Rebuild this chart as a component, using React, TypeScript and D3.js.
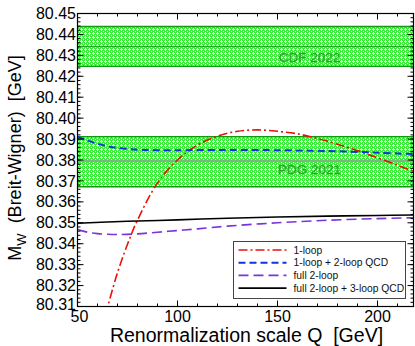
import React from "react";
import * as d3 from "d3";

// renormalization scale Q [GeV] vs M_W [GeV]
const qOneLoop = [64, 70, 76.2, 80, 90, 100, 110, 120, 130, 140, 150, 160, 170, 180, 190, 200, 210, 218];
const mwOneLoop = [80.306, 80.3262, 80.3427, 80.3513, 80.369, 80.38, 80.3871, 80.3914, 80.3937, 80.3944, 80.3937, 80.3925, 80.3903, 80.3875, 80.3845, 80.381, 80.3775, 80.3745];

const qOneLoopQcd = [50, 55, 60, 65, 70, 80, 90, 100, 125, 150, 175, 200, 218];
const mwOneLoopQcd = [80.3912, 80.3893, 80.3878, 80.3866, 80.3857, 80.3849, 80.3847, 80.3847, 80.3848, 80.3847, 80.3843, 80.3835, 80.3828];

const qTwoLoop = [50, 55, 60, 65, 70, 80, 90, 100, 110, 125, 150, 175, 200, 218];
const mwTwoLoop = [80.3468, 80.3455, 80.3448, 80.3445, 80.3444, 80.3447, 80.3455, 80.3463, 80.3471, 80.3484, 80.35, 80.3512, 80.352, 80.3524];

const qThreeLoop = [50, 75, 100, 125, 150, 175, 200, 218];
const mwThreeLoop = [80.3498, 80.3507, 80.3514, 80.3522, 80.3528, 80.3532, 80.3535, 80.3537];

// measurement bands: [low, centre, high]
const cdfBand = [80.4248, 80.4343, 80.4438];
const pdgBand = [80.3672, 80.3795, 80.3911];

const xMajorTicks = [50, 100, 150, 200];
const yMajorTicks = [80.31, 80.32, 80.33, 80.34, 80.35, 80.36, 80.37, 80.38, 80.39, 80.4, 80.41, 80.42, 80.43, 80.44, 80.45];

const legendLabels = ["1-loop", "1-loop + 2-loop QCD", "full 2-loop", "full 2-loop + 3-loop QCD"];

const W = 415;
const H = 346;
const margin = { left: 77.5, right: 1.5, top: 13.5, bottom: 39.5 };
const font = "'Liberation Sans', Arial, Helvetica, sans-serif";

export default function App() {
  const x = d3.scaleLinear().domain([50, 218]).range([margin.left, W - margin.right]);
  const y = d3.scaleLinear().domain([80.31, 80.45]).range([H - margin.bottom, margin.top]);
  const [x0, x1] = x.range();
  const [y0, y1] = y.range();

  const line = (qs: number[], ms: number[]) =>
    d3.line<number>()
      .x((_, i) => x(qs[i]))
      .y((m) => y(m))
      .curve(d3.curveCatmullRom)(ms) || "";

  const series = [
    { label: legendLabels[0], d: line(qOneLoop, mwOneLoop), color: "#e8120c", dash: "9,3,2,3", w: 1.6 },
    { label: legendLabels[1], d: line(qOneLoopQcd, mwOneLoopQcd), color: "#1530e0", dash: "7,4", w: 2 },
    { label: legendLabels[2], d: line(qTwoLoop, mwTwoLoop), color: "#7a35d8", dash: "10,5", w: 1.6 },
    { label: legendLabels[3], d: line(qThreeLoop, mwThreeLoop), color: "#000000", dash: "none", w: 1.6 },
  ];

  const xMinor = d3.range(50, 219, 10).filter((v) => !xMajorTicks.includes(v));
  const yMinor = d3.range(0, 71).map((i) => 80.31 + i * 0.002);

  const bands = [
    { b: cdfBand, text: "CDF 2022", centre: "#1a9a1a", cw: 1, off: 16 },
    { b: pdgBand, text: "PDG 2021", centre: "#86b086", cw: 2, off: 13 },
  ];

  const lg = { x: 233.5, y: 241.5, w: 172, h: 57 };

  return (
    <svg width={W} height={H} style={{ position: "absolute", left: 0, top: 0 }} fontFamily={font}>
      <defs>
        <pattern id="dots" width="4" height="4" patternUnits="userSpaceOnUse">
          <rect width="4" height="4" fill="#3ced3c" />
          <rect x="1" y="0" width="1" height="1" fill="#ffffff" />
          <rect x="0" y="1" width="3" height="1" fill="#ffffff" />
          <rect x="1" y="2" width="1" height="1" fill="#ffffff" />
          <rect x="3" y="3" width="1" height="1" fill="#d0fad0" />
        </pattern>
        <clipPath id="plot">
          <rect x={x0} y={y1} width={x1 - x0} height={y0 - y1} />
        </clipPath>
      </defs>
      <rect width={W} height={H} fill="#fff" />

      {bands.map(({ b, text, centre, cw, off }) => (
        <g key={text}>
          <rect x={x0} y={y(b[2])} width={x1 - x0} height={y(b[0]) - y(b[2])} fill="url(#dots)" />
          <line x1={x0} x2={x1} y1={y(b[0])} y2={y(b[0])} stroke="#109a10" strokeWidth={1.5} />
          <line x1={x0} x2={x1} y1={y(b[2])} y2={y(b[2])} stroke="#109a10" strokeWidth={1.5} />
          <line x1={x0} x2={x1} y1={y(b[1])} y2={y(b[1])} stroke={centre} strokeWidth={cw} />
          <text x={x(166)} y={y(b[1]) + off} textAnchor="middle" fontSize={13.5}
            fill="#3b8f3b" stroke="#3b8f3b" strokeWidth={0.3} fillOpacity={0.9}>{text}</text>
        </g>
      ))}

      <g clipPath="url(#plot)" fill="none">
        {series.map((s) => (
          <path key={s.label} d={s.d} stroke={s.color} strokeWidth={s.w} strokeDasharray={s.dash} />
        ))}
      </g>

      {/* frame and ticks */}
      <rect x={x0} y={y1} width={x1 - x0} height={y0 - y1} fill="none" stroke="#000" strokeWidth={1.2} />
      <g stroke="#000" strokeWidth={1}>
        {xMajorTicks.map((v) => (
          <g key={"xM" + v}>
            <line x1={x(v)} x2={x(v)} y1={y0} y2={y0 - 6} />
            <line x1={x(v)} x2={x(v)} y1={y1} y2={y1 + 6} />
          </g>
        ))}
        {xMinor.map((v) => (
          <g key={"xm" + v}>
            <line x1={x(v)} x2={x(v)} y1={y0} y2={y0 - 3} />
            <line x1={x(v)} x2={x(v)} y1={y1} y2={y1 + 3} />
          </g>
        ))}
        {yMajorTicks.map((v) => (
          <g key={"yM" + v}>
            <line x1={x0} x2={x0 + 6} y1={y(v)} y2={y(v)} />
            <line x1={x1} x2={x1 - 6} y1={y(v)} y2={y(v)} />
          </g>
        ))}
        {yMinor.map((v, i) => (
          <g key={"ym" + i}>
            <line x1={x0} x2={x0 + 3} y1={y(v)} y2={y(v)} />
            <line x1={x1} x2={x1 - 3} y1={y(v)} y2={y(v)} />
          </g>
        ))}
      </g>

      <g fontSize={16} fill="#000">
        {xMajorTicks.map((v) => (
          <text key={"xl" + v} x={x(v) + (v === 50 ? 2 : 0)} y={322} textAnchor="middle">{v}</text>
        ))}
        {yMajorTicks.map((v) => (
          <text key={"yl" + v} x={76} y={y(v) - (v === 80.31 ? 2.5 : 0)} dy="0.35em" textAnchor="end">
            {v.toFixed(2)}
          </text>
        ))}
      </g>

      <text x={(x0 + x1) / 2 + 1} y={342} textAnchor="middle" fontSize={19.5} xmlSpace="preserve">
        {"Renormalization scale Q  [GeV]"}
      </text>
      <text transform={`translate(21, 158) rotate(-90)`} textAnchor="middle" fontSize={18} xmlSpace="preserve">
        M<tspan fontSize={13} dy={5}>W</tspan>
        <tspan dy={-5}>{"  (Breit-Wigner)  [GeV]"}</tspan>
      </text>

      {/* legend */}
      <rect x={lg.x} y={lg.y} width={lg.w} height={lg.h} fill="#fff" stroke="#444" strokeWidth={1} />
      {series.map((s, i) => {
        const ly = lg.y + 8.5 + i * 12.7;
        return (
          <g key={"lg" + s.label}>
            <line x1={lg.x + 5} x2={lg.x + 53} y1={ly} y2={ly} stroke={s.color} strokeWidth={s.w}
              strokeDasharray={s.dash} />
            <text x={lg.x + 60} y={ly} dy="0.35em" fontSize={10.3} fill="#111">{s.label}</text>
          </g>
        );
      })}
    </svg>
  );
}
